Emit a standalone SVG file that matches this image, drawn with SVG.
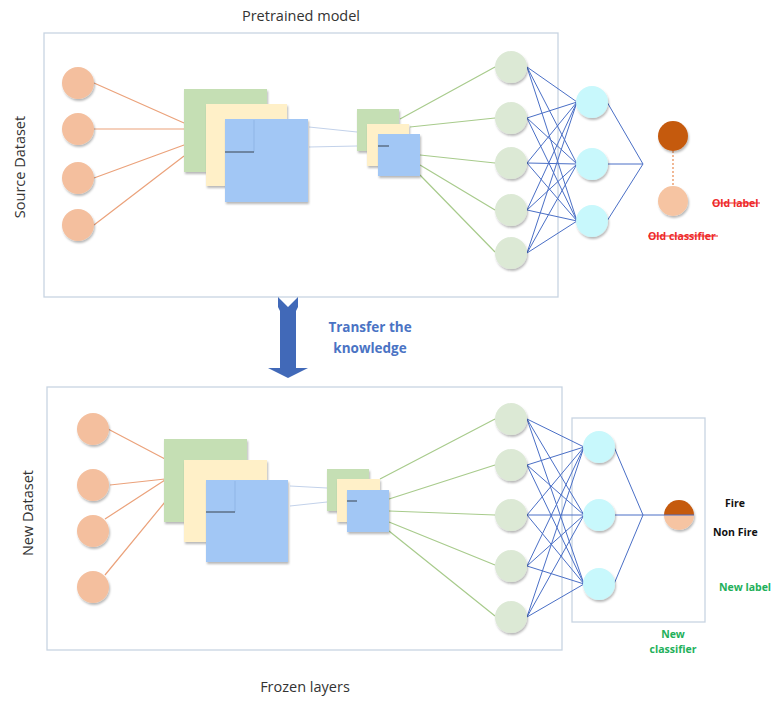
<svg xmlns="http://www.w3.org/2000/svg" width="772" height="705" viewBox="0 0 772 705">
  <defs>
    <filter id="shadow" x="-30%" y="-30%" width="160%" height="160%">
      <feDropShadow dx="1" dy="2" stdDeviation="1.2" flood-color="#000" flood-opacity="0.28"/>
    </filter>
    <clipPath id="topHalf"><rect x="660" y="495" width="40" height="20"/></clipPath>
    <clipPath id="botHalf"><rect x="660" y="515" width="40" height="20"/></clipPath>
  </defs>
  <style>
    .frame { fill: none; stroke: #c8d4e2; stroke-width: 1.3; }
    .inp { fill: #f4bf9e; filter: url(#shadow); }
    .hid { fill: #dce9d5; filter: url(#shadow); }
    .cls { fill: #c8f8fc; filter: url(#shadow); }
    .sqg { fill: #c5dfb4; filter: url(#shadow); }
    .sqy { fill: #fff0c8; filter: url(#shadow); }
    .sqb { fill: #a2c7f5; filter: url(#shadow); }
    .inner { stroke: #5b6f86; stroke-width: 1.5; }
    .innerv { stroke: #8fb5e6; stroke-width: 1; }
    .co { stroke: #eba27b; stroke-width: 1.2; fill: none; }
    .cg { stroke: #a8cb8c; stroke-width: 1.2; fill: none; }
    .cb { stroke: #4a6fc6; stroke-width: 1; fill: none; }
    .cf { stroke: #c3d2ea; stroke-width: 1.2; fill: none; }
    .lbl { font-family: "Open Sans", "Liberation Sans", sans-serif; font-size: 14.5px; fill: #333; }
    .bold { font-family: "Open Sans", "Liberation Sans", sans-serif; font-weight: bold; font-size: 10.5px; }
    .red { fill: #ee2b2b; }
    .grn { fill: #22b05a; }
    .blk { fill: #111; }
  </style>

  <!-- panel frames -->
  <rect id="frame-source" class="frame" x="44" y="33" width="514" height="264"/>
  <rect id="frame-new" class="frame" x="47" y="387" width="515" height="263"/>
  <rect id="frame-classifier" class="frame" x="572" y="418" width="133" height="204"/>

  <!-- connectors -->
  <g id="connectors">
    <!-- source: inputs to feature maps -->
    <path class="co" d="M94 83 L184 123 M94 129 L184 129 M94 178 L184 145 M94 225 L184 156"/>
    <path class="cf" d="M309 127 L357 132 M309 147 L357 146"/>
    <path class="cg" d="M400 119 L495 67 M410 127 L495 118 M420 155 L495 163 M420 165 L495 210 M420 175 L495 252"/>
    <path class="cb" d="M527 67 L577 102 M527 67 L577 164 M527 67 L577 221
                        M527 118 L577 102 M527 118 L577 164 M527 118 L577 221
                        M527 163 L577 102 M527 163 L577 164 M527 163 L577 221
                        M527 210 L577 102 M527 210 L577 164 M527 210 L577 221
                        M527 253 L577 102 M527 253 L577 164 M527 253 L577 221"/>
    <path class="cb" d="M607 102 L643 164 M607 164 L643 164 M607 221 L643 164"/>
    <line x1="673" y1="151" x2="673" y2="186" stroke="#e8894f" stroke-width="1.2" stroke-dasharray="2 2"/>

    <!-- new: inputs to feature maps -->
    <path class="co" d="M108 429 L165 459 M110 485 L165 479 M105 519 L165 480 M105 575 L165 502"/>
    <path class="cf" d="M290 486 L327 488 M290 506 L327 502"/>
    <path class="cg" d="M380 479 L495 419 M389 499 L495 465 M389 511 L495 515 M389 522 L495 565 M389 531 L495 616"/>
    <path class="cb" d="M527 419 L584 447 M527 419 L584 515 M527 419 L584 584
                        M527 465 L584 447 M527 465 L584 515 M527 465 L584 584
                        M527 515 L584 447 M527 515 L584 515 M527 515 L584 584
                        M527 566 L584 447 M527 566 L584 515 M527 566 L584 584
                        M527 617 L584 447 M527 617 L584 515 M527 617 L584 584"/>
    <path class="cb" d="M614 447 L643 515 M614 515 L664 515 M614 584 L643 515"/>
  </g>

  <!-- source network -->
  <g id="src-inputs">
    <circle class="inp" cx="78" cy="83" r="16"/>
    <circle class="inp" cx="78" cy="129" r="16"/>
    <circle class="inp" cx="78" cy="178" r="16"/>
    <circle class="inp" cx="78" cy="225" r="16"/>
  </g>
  <g id="src-conv1">
    <rect class="sqg" x="184" y="89" width="83" height="83"/>
    <rect class="sqy" x="206" y="104" width="81" height="82"/>
    <rect class="sqb" x="225" y="119" width="83" height="83"/>
    <line class="innerv" x1="254" y1="120" x2="254" y2="152"/>
    <line class="inner" x1="225" y1="152" x2="254" y2="152"/>
  </g>
  <g id="src-conv2">
    <rect class="sqg" x="357" y="109" width="42" height="42"/>
    <rect class="sqy" x="367" y="124" width="42" height="42"/>
    <rect class="sqb" x="378" y="134" width="42" height="42"/>
    <line class="inner" x1="378" y1="146" x2="389" y2="146"/>
  </g>
  <g id="src-hidden">
    <circle class="hid" cx="511" cy="67" r="16"/>
    <circle class="hid" cx="511" cy="118" r="16"/>
    <circle class="hid" cx="511" cy="163" r="16"/>
    <circle class="hid" cx="511" cy="210" r="16"/>
    <circle class="hid" cx="511" cy="253" r="16"/>
  </g>
  <g id="src-classifier">
    <circle class="cls" cx="592" cy="102" r="16"/>
    <circle class="cls" cx="592" cy="164" r="16"/>
    <circle class="cls" cx="592" cy="221" r="16"/>
  </g>
  <g id="old-output">
    <circle cx="673" cy="136" r="15" fill="#c55a11" filter="url(#shadow)"/>
    <circle cx="673" cy="201" r="15" fill="#f6c4a2" filter="url(#shadow)"/>
  </g>

  <!-- new network -->
  <g id="new-inputs">
    <circle class="inp" cx="93" cy="429" r="16"/>
    <circle class="inp" cx="93" cy="485" r="16"/>
    <circle class="inp" cx="93" cy="531" r="16"/>
    <circle class="inp" cx="93" cy="587" r="16"/>
  </g>
  <g id="new-conv1">
    <rect class="sqg" x="164" y="439" width="83" height="83"/>
    <rect class="sqy" x="184" y="460" width="83" height="82"/>
    <rect class="sqb" x="206" y="480" width="82" height="82"/>
    <line class="innerv" x1="235" y1="481" x2="235" y2="512"/>
    <line class="inner" x1="206" y1="512" x2="235" y2="512"/>
  </g>
  <g id="new-conv2">
    <rect class="sqg" x="327" y="469" width="42" height="42"/>
    <rect class="sqy" x="337" y="479" width="43" height="43"/>
    <rect class="sqb" x="347" y="490" width="42" height="42"/>
    <line class="inner" x1="347" y1="501" x2="357" y2="501"/>
  </g>
  <g id="new-hidden">
    <circle class="hid" cx="511" cy="419" r="16"/>
    <circle class="hid" cx="511" cy="465" r="16"/>
    <circle class="hid" cx="511" cy="515" r="16"/>
    <circle class="hid" cx="511" cy="566" r="16"/>
    <circle class="hid" cx="511" cy="617" r="16"/>
  </g>
  <g id="new-classifier">
    <circle class="cls" cx="599" cy="447" r="16"/>
    <circle class="cls" cx="599" cy="515" r="16"/>
    <circle class="cls" cx="599" cy="584" r="16"/>
  </g>
  <g id="new-output" filter="url(#shadow)">
    <circle cx="679" cy="515" r="15" fill="#c55a11" clip-path="url(#topHalf)"/>
    <circle cx="679" cy="515" r="15" fill="#f6c4a2" clip-path="url(#botHalf)"/>
    <line x1="664" y1="515" x2="694" y2="515" stroke="#4a6fc6" stroke-width="1"/>
  </g>

  <!-- transfer arrow -->
  <g id="transfer-arrow">
    <path d="M278 297 L288 307 L298 297 L298 307 L296 311 L296 368 L308 368 L288 378 L268 368 L280 368 L280 311 L278 307 Z" fill="#4169b8"/>
    <text class="bold" x="370" y="332" text-anchor="middle" style="font-size:13.5px; fill:#4a73c4">Transfer the</text>
    <text class="bold" x="370" y="353" text-anchor="middle" style="font-size:13.5px; fill:#4a73c4">knowledge</text>
  </g>

  <!-- labels -->
  <text class="lbl" x="301" y="21" text-anchor="middle">Pretrained model</text>
  <text class="lbl" x="0" y="0" text-anchor="middle" transform="translate(25 167) rotate(-90)">Source Dataset</text>
  <text class="lbl" x="0" y="0" text-anchor="middle" transform="translate(33 513) rotate(-90)">New Dataset</text>
  <text class="lbl" x="305" y="692" text-anchor="middle">Frozen layers</text>

  <g id="old-labels">
    <text class="bold red" x="712" y="207">Old label</text>
    <line x1="712" y1="203" x2="760" y2="203" stroke="#ee2b2b" stroke-width="1.2"/>
    <text class="bold red" x="648" y="240">Old classifier</text>
    <line x1="648" y1="236" x2="718" y2="236" stroke="#ee2b2b" stroke-width="1.2"/>
  </g>
  <g id="new-labels">
    <text class="bold blk" x="725" y="507">Fire</text>
    <text class="bold blk" x="713" y="536">Non Fire</text>
    <text class="bold grn" x="719" y="591">New label</text>
    <text class="bold grn" x="673" y="638" text-anchor="middle">New</text>
    <text class="bold grn" x="673" y="653" text-anchor="middle">classifier</text>
  </g>
</svg>
